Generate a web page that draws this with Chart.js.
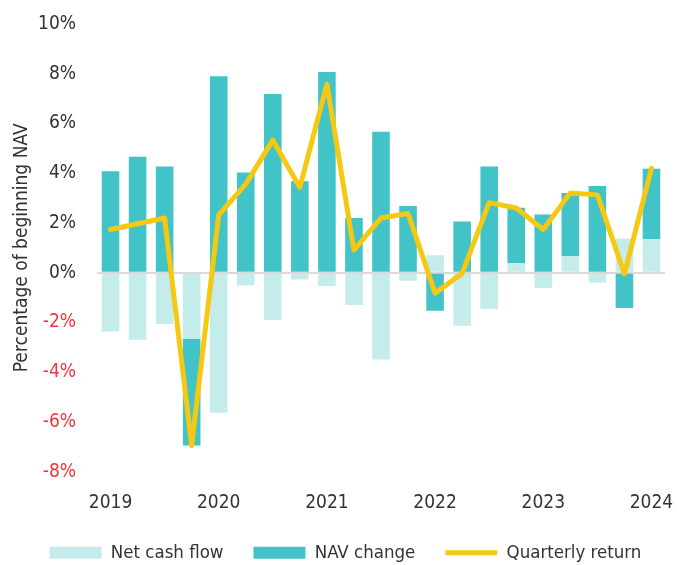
<!DOCTYPE html>
<html>
<head>
<meta charset="utf-8">
<script src="https://cdn.jsdelivr.net/npm/chart.js@4.4.1/dist/chart.umd.min.js"></script>
<style>
  html, body { margin: 0; padding: 0; background: #fff; }
  #wrap { width: 677px; height: 565px; }
</style>
</head>
<body>
<div id="wrap"><canvas id="myChart" width="677" height="565"></canvas></div>
<script>
// quarterly data, 2019 Q1 .. 2024 Q1 (percent of beginning NAV)
const quarters = [
  '2019 Q1', '2019 Q2', '2019 Q3', '2019 Q4',
  '2020 Q1', '2020 Q2', '2020 Q3', '2020 Q4',
  '2021 Q1', '2021 Q2', '2021 Q3', '2021 Q4',
  '2022 Q1', '2022 Q2', '2022 Q3', '2022 Q4',
  '2023 Q1', '2023 Q2', '2023 Q3', '2023 Q4',
  '2024 Q1'
];
const netCashFlow = [
  -2.36, -2.69, -2.06, -2.66,
  -5.63, -0.51, -1.90, -0.27,
  -0.53, -1.30, -3.49, -0.32,
  0.70, -2.13, -1.46, 0.39,
  -0.61, 0.67, -0.39, 1.37,
  1.35
];
const navChange = [
  4.08, 4.66, 4.27, -4.29,
  7.90, 4.03, 7.19, 3.68,
  8.07, 2.20, 5.67, 2.68,
  -1.53, 2.06, 4.27, 2.22,
  2.34, 2.54, 3.49, -1.42,
  2.83
];
const quarterlyReturn = [
  1.74, 1.97, 2.20, -6.95,
  2.32, 3.56, 5.33, 3.43,
  7.58, 0.91, 2.20, 2.38,
  -0.82, -0.03, 2.82, 2.60,
  1.74, 3.21, 3.13, -0.05,
  4.20
];
const yTicks = [-8, -6, -4, -2, 0, 2, 4, 6, 8, 10];

const FONT = "'Liberation Sans Narrow', 'DejaVu Sans Condensed', 'Open Sans', sans-serif";
Chart.defaults.font.family = FONT;
Chart.defaults.font.size = 19;
Chart.defaults.color = '#333333';

// nudge the legend row a bit to the right, like the original
const shiftLegend = {
  id: 'shiftLegend',
  afterLayout(chart) {
    const lg = chart.legend;
    if (lg) { lg.left += 13; lg.right += 13; }
  }
};

const ctx = document.getElementById('myChart').getContext('2d');
const chart = new Chart(ctx, {
  type: 'bar',
  data: {
    labels: quarters,
    datasets: [
      {
        type: 'line',
        label: 'Quarterly return',
        data: quarterlyReturn,
        borderColor: '#F6C812',
        backgroundColor: '#F6C812',
        borderWidth: 5,
        pointRadius: 0,
        tension: 0,
        borderJoinStyle: 'round',
        borderCapStyle: 'round',
        pointStyle: 'line',
        order: 0
      },
      {
        label: 'Net cash flow',
        data: netCashFlow,
        backgroundColor: '#C4ECEA',
        borderWidth: 0,
        pointStyle: 'rect',
        stack: 's',
        order: 1
      },
      {
        label: 'NAV change',
        data: navChange,
        backgroundColor: '#41C3C8',
        borderWidth: 0,
        pointStyle: 'rect',
        stack: 's',
        order: 1
      }
    ]
  },
  plugins: [shiftLegend],
  options: {
    responsive: false,
    animation: false,
    layout: { padding: { top: 24, right: 12, left: 0, bottom: -7 } },
    datasets: {
      bar: { barPercentage: 0.65, categoryPercentage: 1 }
    },
    plugins: {
      tooltip: { enabled: false },
      legend: {
        position: 'bottom',
        labels: {
          usePointStyle: true,
          pointStyleWidth: 52,
          boxHeight: 12,
          padding: 30,
          color: '#333333',
          font: { size: 18.5 },
          sort: (a, b) => {
            const want = ['Net cash flow', 'NAV change', 'Quarterly return'];
            return want.indexOf(a.text) - want.indexOf(b.text);
          }
        }
      }
    },
    scales: {
      x: {
        stacked: true,
        border: { display: false },
        grid: { display: false, drawTicks: false },
        afterFit: function(scale) {
          scale.paddingLeft = 0;
          scale.paddingRight = 0;
          scale.height -= 21;
        },
        ticks: {
          autoSkip: false,
          maxRotation: 0,
          padding: 20,
          color: '#333333',
          callback: function(value, index) {
            const q = quarters[index];
            return q.endsWith('Q1') ? q.slice(0, 4) : '';
          }
        }
      },
      y: {
        stacked: true,
        min: -8,
        max: 10,
        border: { display: false },
        afterFit: function(scale) {
          scale.width = 97;
          scale.paddingTop = 0;
          scale.paddingBottom = 0;
        },
        afterBuildTicks: function(scale) {
          scale.ticks = yTicks.map(v => ({ value: v }));
        },
        grid: {
          drawTicks: false,
          lineWidth: 2,
          color: c => (c.tick && c.tick.value === 0 ? '#DADADA' : 'rgba(0,0,0,0)')
        },
        ticks: {
          padding: 21,
          color: c => (c.tick.value < 0 ? '#F2353B' : '#333333'),
          callback: v => v + '%'
        },
        title: {
          display: true,
          text: 'Percentage of beginning NAV',
          color: '#333333',
          padding: { top: 11, bottom: 0 },
          font: { size: 19 }
        }
      }
    }
  }
});
</script>
</body>
</html>
